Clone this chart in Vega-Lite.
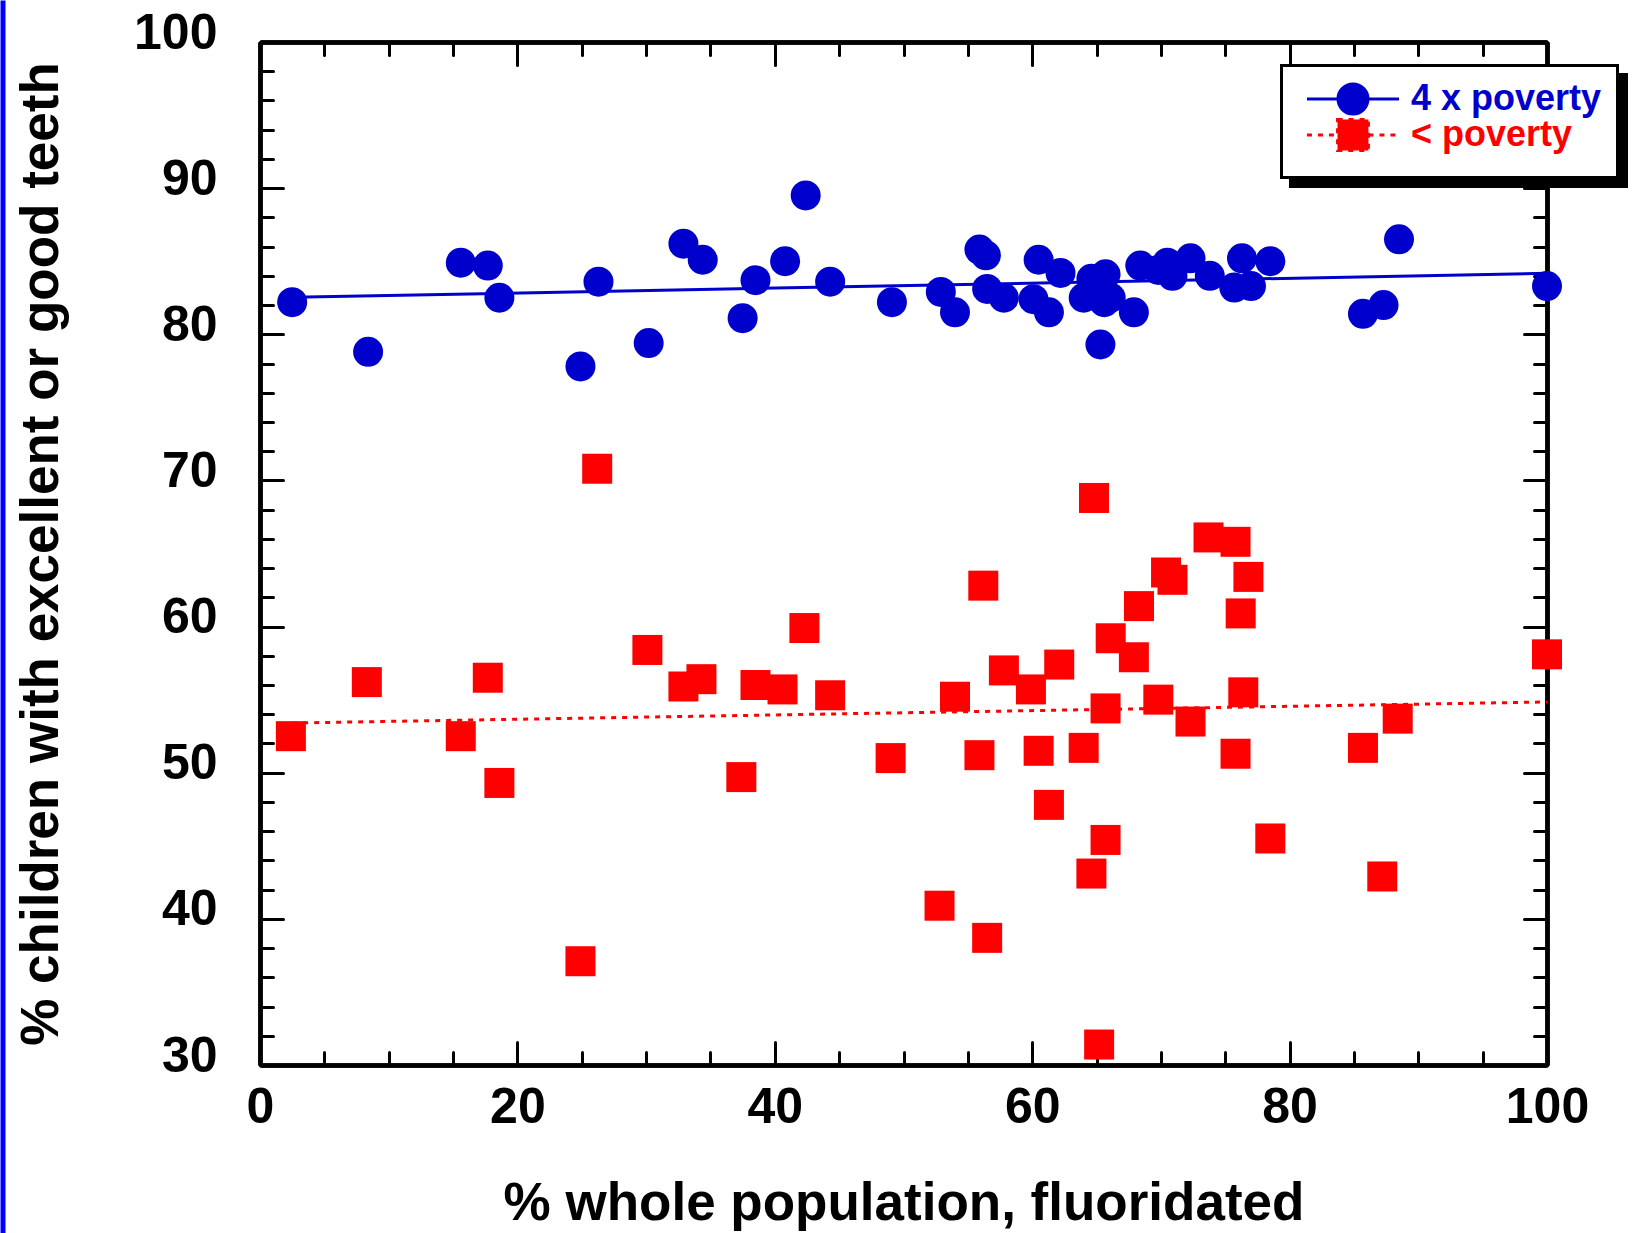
{
  "$schema": "https://vega.github.io/schema/vega-lite/v6.json",
  "width": 1287,
  "height": 1023,
  "autosize": {"type": "none"},
  "padding": {"left": 260, "top": 42, "right": 86, "bottom": 168},
  "background": "white",
  "config": {
    "font": "Liberation Sans",
    "view": {"stroke": null},
    "axis": {
      "grid": false,
      "domainColor": "black",
      "domainWidth": 4.5,
      "tickColor": "black",
      "tickWidth": 3,
      "tickCap": "round",
      "labelFlush": false,
      "labelFont": "Liberation Sans",
      "labelFontWeight": "bold",
      "labelColor": "black",
      "titleFont": "Liberation Sans",
      "titleFontWeight": "bold",
      "titleColor": "black"
    },
    "legend": {
      "orient": "none",
      "title": null,
      "symbolSize": 900,
      "symbolOffset": 38,
      "labelOffset": 40,
      "labelFontSize": 36,
      "labelFontWeight": "bold",
      "labelFont": "Liberation Sans",
      "labelLimit": 400,
      "rowPadding": 0,
      "symbolOpacity": 1,
      "symbolStrokeWidth": 3
    }
  },
  "datasets": {
    "pts": [
      {"x": 2.5, "y": 82.2, "group": "4 x poverty"},
      {"x": 8.4, "y": 78.8, "group": "4 x poverty"},
      {"x": 15.6, "y": 84.9, "group": "4 x poverty"},
      {"x": 17.7, "y": 84.7, "group": "4 x poverty"},
      {"x": 18.6, "y": 82.5, "group": "4 x poverty"},
      {"x": 24.9, "y": 77.8, "group": "4 x poverty"},
      {"x": 26.3, "y": 83.6, "group": "4 x poverty"},
      {"x": 30.2, "y": 79.4, "group": "4 x poverty"},
      {"x": 32.9, "y": 86.2, "group": "4 x poverty"},
      {"x": 34.4, "y": 85.1, "group": "4 x poverty"},
      {"x": 37.5, "y": 81.1, "group": "4 x poverty"},
      {"x": 38.5, "y": 83.7, "group": "4 x poverty"},
      {"x": 40.8, "y": 85.0, "group": "4 x poverty"},
      {"x": 42.4, "y": 89.5, "group": "4 x poverty"},
      {"x": 44.3, "y": 83.6, "group": "4 x poverty"},
      {"x": 49.1, "y": 82.2, "group": "4 x poverty"},
      {"x": 52.9, "y": 82.9, "group": "4 x poverty"},
      {"x": 54.0, "y": 81.5, "group": "4 x poverty"},
      {"x": 55.9, "y": 85.8, "group": "4 x poverty"},
      {"x": 56.4, "y": 85.4, "group": "4 x poverty"},
      {"x": 56.5, "y": 83.1, "group": "4 x poverty"},
      {"x": 57.8, "y": 82.5, "group": "4 x poverty"},
      {"x": 60.1, "y": 82.4, "group": "4 x poverty"},
      {"x": 60.5, "y": 85.1, "group": "4 x poverty"},
      {"x": 61.3, "y": 81.5, "group": "4 x poverty"},
      {"x": 62.2, "y": 84.2, "group": "4 x poverty"},
      {"x": 64.0, "y": 82.5, "group": "4 x poverty"},
      {"x": 64.6, "y": 83.8, "group": "4 x poverty"},
      {"x": 65.3, "y": 79.3, "group": "4 x poverty"},
      {"x": 65.7, "y": 84.1, "group": "4 x poverty"},
      {"x": 65.6, "y": 82.2, "group": "4 x poverty"},
      {"x": 66.1, "y": 82.5, "group": "4 x poverty"},
      {"x": 67.9, "y": 81.5, "group": "4 x poverty"},
      {"x": 68.4, "y": 84.7, "group": "4 x poverty"},
      {"x": 69.8, "y": 84.4, "group": "4 x poverty"},
      {"x": 70.5, "y": 84.9, "group": "4 x poverty"},
      {"x": 70.9, "y": 84.0, "group": "4 x poverty"},
      {"x": 72.3, "y": 85.2, "group": "4 x poverty"},
      {"x": 73.8, "y": 84.0, "group": "4 x poverty"},
      {"x": 75.7, "y": 83.2, "group": "4 x poverty"},
      {"x": 76.3, "y": 85.2, "group": "4 x poverty"},
      {"x": 77.0, "y": 83.3, "group": "4 x poverty"},
      {"x": 78.5, "y": 85.0, "group": "4 x poverty"},
      {"x": 85.7, "y": 81.4, "group": "4 x poverty"},
      {"x": 87.3, "y": 82.0, "group": "4 x poverty"},
      {"x": 88.5, "y": 86.5, "group": "4 x poverty"},
      {"x": 100.0, "y": 83.3, "group": "4 x poverty"},
      {"x": 2.4, "y": 52.5, "group": "< poverty"},
      {"x": 8.3, "y": 56.2, "group": "< poverty"},
      {"x": 15.6, "y": 52.5, "group": "< poverty"},
      {"x": 17.7, "y": 56.5, "group": "< poverty"},
      {"x": 18.6, "y": 49.3, "group": "< poverty"},
      {"x": 24.9, "y": 37.1, "group": "< poverty"},
      {"x": 26.2, "y": 70.8, "group": "< poverty"},
      {"x": 30.1, "y": 58.4, "group": "< poverty"},
      {"x": 32.9, "y": 55.9, "group": "< poverty"},
      {"x": 34.3, "y": 56.4, "group": "< poverty"},
      {"x": 37.4, "y": 49.7, "group": "< poverty"},
      {"x": 38.5, "y": 56.0, "group": "< poverty"},
      {"x": 40.6, "y": 55.7, "group": "< poverty"},
      {"x": 42.3, "y": 59.9, "group": "< poverty"},
      {"x": 44.3, "y": 55.3, "group": "< poverty"},
      {"x": 49.0, "y": 51.0, "group": "< poverty"},
      {"x": 52.8, "y": 40.9, "group": "< poverty"},
      {"x": 54.0, "y": 55.2, "group": "< poverty"},
      {"x": 55.9, "y": 51.2, "group": "< poverty"},
      {"x": 56.2, "y": 62.8, "group": "< poverty"},
      {"x": 56.5, "y": 38.7, "group": "< poverty"},
      {"x": 57.8, "y": 57.0, "group": "< poverty"},
      {"x": 59.9, "y": 55.7, "group": "< poverty"},
      {"x": 60.5, "y": 51.5, "group": "< poverty"},
      {"x": 61.3, "y": 47.8, "group": "< poverty"},
      {"x": 62.1, "y": 57.4, "group": "< poverty"},
      {"x": 64.0, "y": 51.7, "group": "< poverty"},
      {"x": 64.6, "y": 43.1, "group": "< poverty"},
      {"x": 64.8, "y": 68.8, "group": "< poverty"},
      {"x": 65.2, "y": 31.4, "group": "< poverty"},
      {"x": 65.7, "y": 45.4, "group": "< poverty"},
      {"x": 65.7, "y": 54.4, "group": "< poverty"},
      {"x": 66.1, "y": 59.2, "group": "< poverty"},
      {"x": 67.9, "y": 57.9, "group": "< poverty"},
      {"x": 68.3, "y": 61.4, "group": "< poverty"},
      {"x": 69.8, "y": 55.0, "group": "< poverty"},
      {"x": 70.4, "y": 63.7, "group": "< poverty"},
      {"x": 70.9, "y": 63.2, "group": "< poverty"},
      {"x": 72.3, "y": 53.5, "group": "< poverty"},
      {"x": 73.7, "y": 66.1, "group": "< poverty"},
      {"x": 75.8, "y": 65.8, "group": "< poverty"},
      {"x": 75.8, "y": 51.3, "group": "< poverty"},
      {"x": 76.2, "y": 60.9, "group": "< poverty"},
      {"x": 76.4, "y": 55.5, "group": "< poverty"},
      {"x": 76.8, "y": 63.4, "group": "< poverty"},
      {"x": 78.5, "y": 45.5, "group": "< poverty"},
      {"x": 85.7, "y": 51.7, "group": "< poverty"},
      {"x": 87.2, "y": 42.9, "group": "< poverty"},
      {"x": 88.4, "y": 53.7, "group": "< poverty"},
      {"x": 100.0, "y": 58.1, "group": "< poverty"}
    ],
    "trend": [
      {"x": 2.56, "y": 82.53, "group": "4 x poverty"},
      {"x": 100, "y": 84.17, "group": "4 x poverty"},
      {"x": 2.5, "y": 53.4, "group": "< poverty"},
      {"x": 100, "y": 54.84, "group": "< poverty"}
    ]
  },
  "layer": [
    {
      "data": {"name": "trend"},
      "transform": [{"filter": "datum.group === '4 x poverty'"}],
      "mark": {"type": "line", "strokeWidth": 3, "color": "#0000CC"},
      "encoding": {
        "x": {"field": "x", "type": "quantitative", "scale": {"domain": [0, 100], "nice": false, "zero": false},
          "axis": {"orient": "bottom", "values": [5, 10, 15, 25, 30, 35, 45, 50, 55, 65, 70, 75, 85, 90, 95], "tickSize": -13, "labels": false, "title": null}},
        "y": {"field": "y", "type": "quantitative", "scale": {"domain": [30, 100], "nice": false, "zero": false},
          "axis": {"orient": "left", "values": [32, 34, 36, 38, 42, 44, 46, 48, 52, 54, 56, 58, 62, 64, 66, 68, 72, 74, 76, 78, 82, 84, 86, 88, 92, 94, 96, 98], "tickSize": -13, "labels": false, "title": null}}
      }
    },
    {
      "data": {"name": "trend"},
      "transform": [{"filter": "datum.group === '< poverty'"}],
      "mark": {"type": "line", "strokeWidth": 3, "color": "#FF0000", "strokeDash": [5, 6]},
      "encoding": {
        "x": {"field": "x", "type": "quantitative", "scale": {"domain": [0, 100], "nice": false, "zero": false}, "axis": null},
        "y": {"field": "y", "type": "quantitative", "scale": {"domain": [30, 100], "nice": false, "zero": false}, "axis": null}
      }
    },
    {
      "data": {"name": "pts"},
      "mark": {"type": "point", "filled": true},
      "encoding": {
        "x": {"field": "x", "type": "quantitative", "scale": {"domain": [0, 100], "nice": false, "zero": false},
          "axis": {"orient": "bottom", "values": [0, 20, 40, 60, 80, 100], "tickSize": -23, "labelFontSize": 50, "labelPadding": 40, "title": "% whole population, fluoridated", "titleFontSize": 53, "titlePadding": 45}},
        "y": {"field": "y", "type": "quantitative", "scale": {"domain": [30, 100], "nice": false, "zero": false},
          "axis": {"orient": "left", "values": [30, 40, 50, 60, 70, 80, 90, 100], "tickSize": -23, "labelFontSize": 50, "labelPadding": 66, "labelOffset": -9, "title": "% children with excellent or good teeth", "titleFontSize": 53, "titlePadding": 65}},
        "color": {"field": "group", "type": "nominal", "scale": {"domain": ["4 x poverty", "< poverty"], "range": ["#0000CC", "#FF0000"]},
          "legend": {
            "orient": "none", "legendX": 1023, "legendY": 25, "zindex": 3, "padding": 14,
            "values": ["4 x poverty"],
            "symbolType": "M-3.07,0H-1A1,1,0,1,1,1,0H3.07M1,0A1,1,0,1,1,-1,0Z",
            "symbolStrokeColor": "#0000CC",
            "labelColor": "#0000CC"
          }},
        "strokeWidth": {"field": "group", "type": "nominal", "scale": {"domain": ["< poverty", "4 x poverty", "w"], "range": [3, 3, 3]},
          "legend": {
            "orient": "none", "legendX": 1023, "legendY": 61, "zindex": 3, "padding": 14,
            "values": ["< poverty"],
            "symbolType": "M-3.07,0H-1.03M1.03,0H3.07M-1.03,-1.03H1.03V1.03H-1.03Z",
            "symbolFillColor": "#FF0000",
            "symbolStrokeColor": "#FF0000",
            "symbolDash": [5, 6],
            "labelColor": "#FF0000"
          }},
        "stroke": {"field": "group", "type": "nominal", "scale": {"domain": ["4 x poverty", "< poverty", "k"], "range": ["transparent", "transparent", "transparent"]},
          "legend": {
            "orient": "none", "legendX": 1020, "legendY": 22, "zindex": 1, "padding": 17,
            "values": ["4 x poverty", "< poverty"],
            "fillColor": "black",
            "symbolFillColor": "black",
            "labelColor": "black"
          }},
        "opacity": {"field": "group", "type": "nominal", "scale": {"domain": ["4 x poverty", "< poverty", "f"], "range": [1, 1, 1]},
          "legend": {
            "orient": "none", "legendX": 1023, "legendY": 25, "zindex": 2, "padding": 14,
            "values": ["4 x poverty", "< poverty"],
            "fillColor": "white",
            "symbolFillColor": "white",
            "symbolStrokeColor": "white",
            "labelColor": "white"
          }},
        "size": {"field": "group", "type": "nominal", "scale": {"domain": ["< poverty", "4 x poverty"], "range": [900, 900]},
          "legend": {
            "orient": "none", "legendX": 1029, "legendY": 31, "zindex": 0, "padding": 17,
            "values": ["4 x poverty", "< poverty"],
            "fillColor": "black",
            "symbolFillColor": "black",
            "symbolStrokeColor": "black",
            "labelColor": "black"
          }},
        "shape": {"field": "group", "type": "nominal", "scale": {"domain": ["4 x poverty", "< poverty", "s"], "range": ["circle", "square", "circle"]}, "legend": null}
      }
    },
    {
      "data": {"name": "trend"},
      "mark": {"type": "point", "opacity": 0},
      "encoding": {
        "x": {"field": "x", "type": "quantitative", "scale": {"domain": [0, 100], "nice": false, "zero": false},
          "axis": {"orient": "top", "values": [0, 20, 40, 60, 80, 100], "tickSize": -23, "labels": false, "title": null}},
        "y": {"field": "y", "type": "quantitative", "scale": {"domain": [30, 100], "nice": false, "zero": false},
          "axis": {"orient": "right", "values": [30, 40, 50, 60, 70, 80, 90, 100], "tickSize": -23, "labels": false, "title": null}}
      }
    },
    {
      "data": {"name": "trend"},
      "mark": {"type": "point", "opacity": 0},
      "encoding": {
        "x": {"field": "x", "type": "quantitative", "scale": {"domain": [0, 100], "nice": false, "zero": false},
          "axis": {"orient": "top", "values": [5, 10, 15, 25, 30, 35, 45, 50, 55, 65, 70, 75, 85, 90, 95], "tickSize": -13, "labels": false, "title": null}},
        "y": {"field": "y", "type": "quantitative", "scale": {"domain": [30, 100], "nice": false, "zero": false},
          "axis": {"orient": "right", "values": [32, 34, 36, 38, 42, 44, 46, 48, 52, 54, 56, 58, 62, 64, 66, 68, 72, 74, 76, 78, 82, 84, 86, 88, 92, 94, 96, 98], "tickSize": -13, "labels": false, "title": null}}
      }
    },
    {
      "data": {"name": "trend"},
      "mark": {"type": "point", "opacity": 0},
      "encoding": {
        "x": {"field": "x", "type": "quantitative", "scale": {"domain": [0, 100], "nice": false, "zero": false}, "axis": null},
        "y": {"field": "y", "type": "quantitative", "scale": {"domain": [30, 100], "nice": false, "zero": false, "range": [1191, -42]},
          "axis": {"orient": "left", "offset": 257.5, "domainColor": "#0000FF", "domainWidth": 5, "domainCap": "butt", "ticks": false, "labels": false, "title": null}}
      }
    }
  ],
  "resolve": {"scale": {"y": "independent"}, "axis": {"x": "independent", "y": "independent"}}
}
